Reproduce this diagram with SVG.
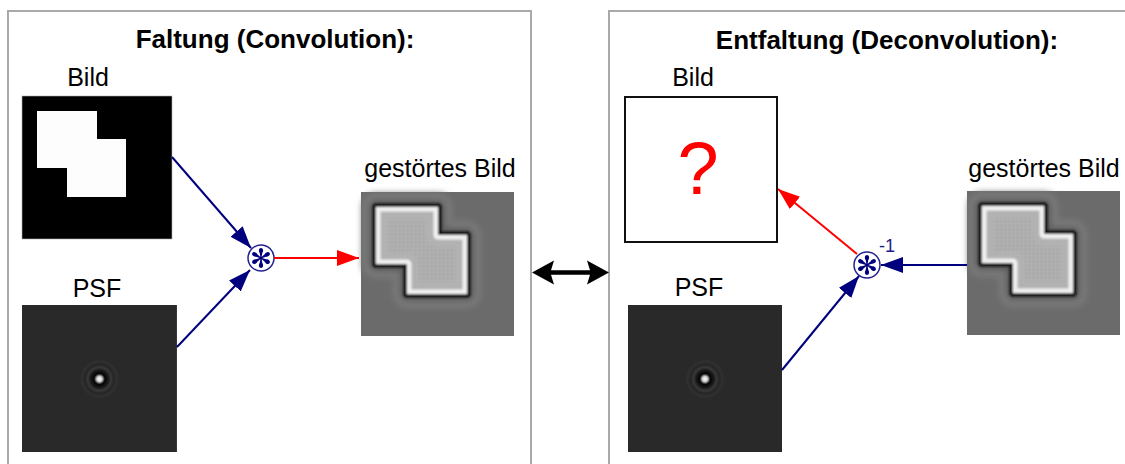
<svg xmlns="http://www.w3.org/2000/svg" xmlns:xlink="http://www.w3.org/1999/xlink" width="1125" height="464" viewBox="0 0 1125 464">
  <style>
    .panel { fill: none; stroke: #a9a9a9; stroke-width: 2; }
    .title { font-family: "Liberation Sans", Arial, sans-serif; font-weight: bold; font-size: 26px; fill: #000; text-anchor: middle; }
    .label { font-family: "Liberation Sans", Arial, sans-serif; font-size: 25px; fill: #000; text-anchor: middle; }
    .blue { fill: none; stroke: #00007f; stroke-width: 2; }
    .red { fill: none; stroke: #ff0000; stroke-width: 2; }
    .psf { fill: #292929; }
  </style>
  <defs>
    <marker id="headBlue" markerUnits="userSpaceOnUse" markerWidth="24" markerHeight="18" refX="22" refY="8" orient="auto">
      <path d="M0,0 L22,8 L0,16 z" fill="#00007f"/>
    </marker>
    <marker id="headRed" markerUnits="userSpaceOnUse" markerWidth="24" markerHeight="18" refX="22" refY="8" orient="auto">
      <path d="M0,0 L22,8 L0,16 z" fill="#ff0000"/>
    </marker>
    <filter id="soft" x="-10%" y="-10%" width="120%" height="120%">
      <feGaussianBlur stdDeviation="0.8"/>
    </filter>
    <filter id="halo" x="-30%" y="-30%" width="160%" height="160%">
      <feGaussianBlur stdDeviation="3"/>
    </filter>
    <radialGradient id="spot" cx="0.5" cy="0.5" r="0.5">
      <stop offset="0" stop-color="#ffffff"/>
      <stop offset="0.13" stop-color="#cfcfcf"/>
      <stop offset="0.27" stop-color="#050505"/>
      <stop offset="0.42" stop-color="#161616"/>
      <stop offset="0.58" stop-color="#383838"/>
      <stop offset="0.72" stop-color="#252525"/>
      <stop offset="0.86" stop-color="#303030"/>
      <stop offset="1" stop-color="#292929"/>
    </radialGradient>
    <pattern id="ripple" width="4" height="4" patternUnits="userSpaceOnUse">
      <path d="M0,0.5 H4 M0.5,0 V4" stroke="#d4d4d4" stroke-width="1" opacity="0.5"/>
    </pattern>
    <clipPath id="shapeClip">
      <polygon points="15,15 77,15 77,43 106,43 106,102 46,102 46,72 15,72"/>
    </clipPath>

    <!-- blurred, ringing copy of the test image, 153 x 144 -->
    <g id="blurredImage">
      <rect x="0" y="0" width="153" height="144" fill="#6b6b6b"/>
      <polygon points="15,15 77,15 77,43 106,43 106,102 46,102 46,72 15,72" fill="none" stroke="#7a7a7a" stroke-width="28" stroke-linejoin="round" filter="url(#halo)"/>
      <polygon points="15,15 77,15 77,43 106,43 106,102 46,102 46,72 15,72" fill="none" stroke="#5c5c5c" stroke-width="14" stroke-linejoin="round" filter="url(#halo)"/>
      <g filter="url(#soft)">
        <polygon points="15,15 77,15 77,43 106,43 106,102 46,102 46,72 15,72" fill="#a3a3a3" stroke="#0e0e0e" stroke-width="7" stroke-linejoin="round"/>
        <polygon points="15,15 77,15 77,43 106,43 106,102 46,102 46,72 15,72" fill="#a3a3a3"/>
        <g clip-path="url(#shapeClip)">
          <rect x="15" y="15" width="91" height="87" fill="url(#ripple)"/>
          <polygon points="15,15 77,15 77,43 106,43 106,102 46,102 46,72 15,72" fill="none" stroke="#b9b9b9" stroke-width="24" stroke-linejoin="round" opacity="0.45"/>
          <polygon points="15,15 77,15 77,43 106,43 106,102 46,102 46,72 15,72" fill="none" stroke="#f0f0f0" stroke-width="9" stroke-linejoin="round"/>
        </g>
      </g>
    </g>

    <!-- point spread function: bright core with faint rings -->
    <g id="psfImage">
      <rect x="0" y="0" width="154" height="147" class="psf"/>
      <circle cx="77" cy="74" r="20" fill="url(#spot)"/>
    </g>

    <!-- circled-asterisk operator -->
    <g id="convOp">
      <circle cx="0" cy="0" r="13" fill="#ffffff" stroke="#23238f" stroke-width="1.5"/>
      <g fill="#00007f">
        <path id="petal" d="M-0.6,-1 L-1.3,-5 C-2.8,-7 -2.1,-10 0,-10 C2.1,-10 2.8,-7 1.3,-5 L0.6,-1 Z"/>
        <use xlink:href="#petal" transform="rotate(60)"/>
        <use xlink:href="#petal" transform="rotate(120)"/>
        <use xlink:href="#petal" transform="rotate(180)"/>
        <use xlink:href="#petal" transform="rotate(240)"/>
        <use xlink:href="#petal" transform="rotate(300)"/>
        <circle cx="0" cy="0" r="1.6"/>
      </g>
    </g>
  </defs>

  <rect width="1125" height="464" fill="#ffffff"/>

  <!-- panels -->
  <g id="panel-convolution">
    <rect class="panel" x="8" y="11" width="523" height="470"/>
    <text class="title" x="275" y="48">Faltung (Convolution):</text>
  </g>
  <g id="panel-deconvolution">
    <rect class="panel" x="609" y="11" width="540" height="470"/>
    <text class="title" x="887" y="49">Entfaltung (Deconvolution):</text>
  </g>

  <!-- left: convolution -->
  <g id="bild-left">
    <text class="label" x="88" y="86">Bild</text>
    <rect x="22" y="96" width="150" height="143" fill="#000000" stroke="#b0b0b0" stroke-width="0.6"/>
    <polygon points="37,111 97,111 97,139 126,139 126,197 67,197 67,168 37,168" fill="#fdfdfd"/>
  </g>
  <g id="psf-left">
    <text class="label" x="97" y="297">PSF</text>
    <use xlink:href="#psfImage" transform="translate(22,305) scale(1.006,1)"/>
  </g>
  <g id="conv-left">
    <use xlink:href="#convOp" x="261" y="258"/>
  </g>
  <g id="gestoert-left">
    <text class="label" x="440" y="177">gestörtes Bild</text>
    <use xlink:href="#blurredImage" x="361" y="192"/>
  </g>

  <!-- right: deconvolution -->
  <g id="bild-right">
    <text class="label" x="693" y="86">Bild</text>
    <rect x="625" y="97" width="152" height="145" fill="#ffffff" stroke="#111111" stroke-width="2"/>
    <text x="698" y="194" font-family="'Liberation Sans', Arial, sans-serif" font-size="74" fill="#ff0000" text-anchor="middle">?</text>
  </g>
  <g id="psf-right">
    <text class="label" x="699" y="296">PSF</text>
    <use xlink:href="#psfImage" x="628" y="305"/>
  </g>
  <g id="deconv-right">
    <use xlink:href="#convOp" x="867" y="265"/>
    <text x="879" y="252" font-family="'Liberation Sans', Arial, sans-serif" font-size="18" fill="#1c1c8c">-1</text>
  </g>
  <g id="gestoert-right">
    <text class="label" x="1044" y="177">gestörtes Bild</text>
    <use xlink:href="#blurredImage" x="967" y="191"/>
  </g>

  <!-- connectors -->
  <g id="connectors">
    <line class="blue" x1="172" y1="157" x2="251" y2="248" marker-end="url(#headBlue)"/>
    <line class="blue" x1="177" y1="347" x2="250" y2="270" marker-end="url(#headBlue)"/>
    <line class="red" x1="274" y1="258" x2="359" y2="258" marker-end="url(#headRed)"/>
    <line class="blue" x1="967" y1="265" x2="881" y2="265" marker-end="url(#headBlue)"/>
    <line class="blue" x1="782" y1="370" x2="859" y2="276" marker-end="url(#headBlue)"/>
    <line class="red" x1="857" y1="254" x2="778" y2="189" marker-end="url(#headRed)"/>
    <!-- two-way arrow between the panels -->
    <polygon points="532,272.5 554,260.5 551,270.3 590,270.3 587,260.5 609,272.5 587,284.5 590,274.7 551,274.7 554,284.5" fill="#000000"/>
  </g>
</svg>
